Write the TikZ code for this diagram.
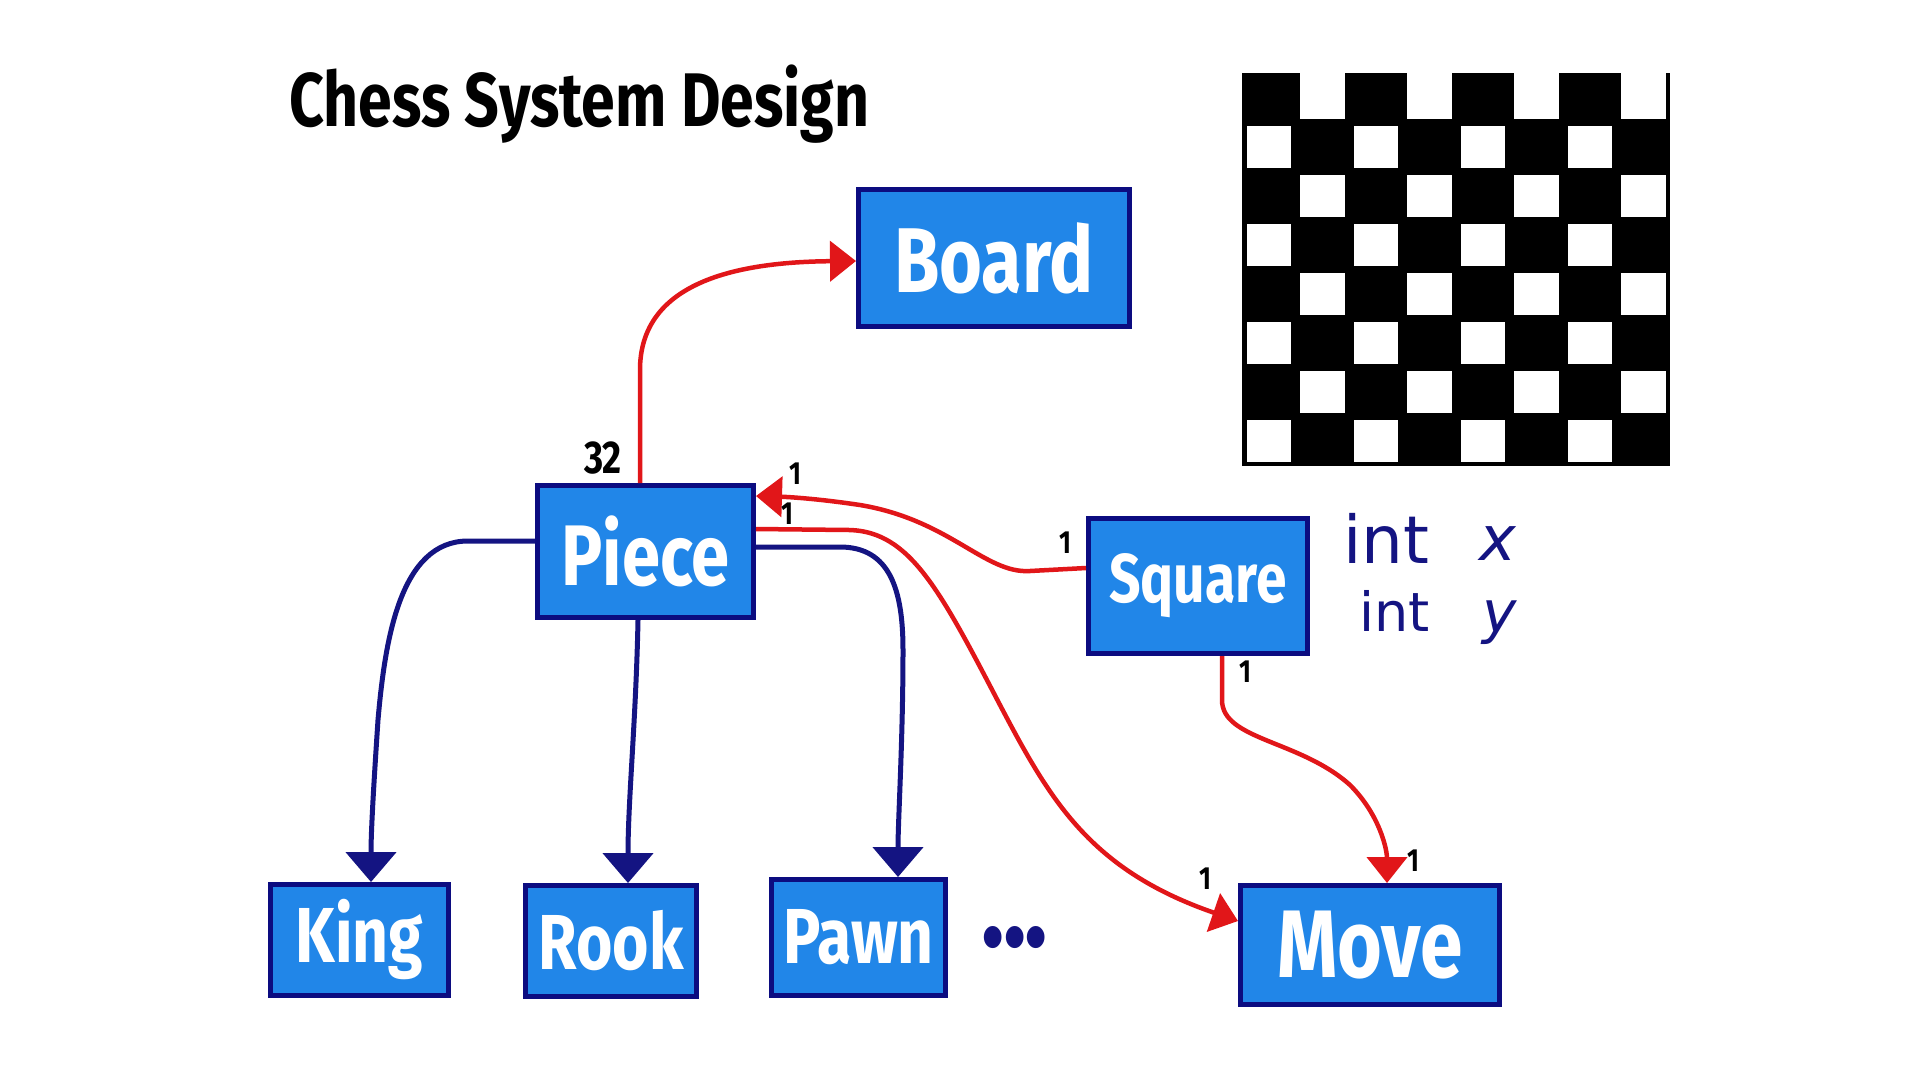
\documentclass[tikz,border=0pt]{standalone}
\usepackage{fontspec}
\setmainfont{Fira Sans}
\newfontfamily\labelfont[FakeStretch=0.8]{Fira Sans}
\newfontfamily\handfont{DejaVu Sans}
\usetikzlibrary{arrows.meta}

\definecolor{boxfill}{RGB}{33,134,232}
\definecolor{boxline}{RGB}{12,12,128}
\definecolor{navyline}{RGB}{20,20,130}
\definecolor{redline}{RGB}{225,22,25}

\begin{document}
\begin{tikzpicture}[x=1pt,y=-1pt,
  cls/.style={draw=boxline, fill=boxfill, line width=5pt, inner sep=0pt,
    text=white, font=\labelfont\bfseries},
  inherit/.style={draw=navyline, line width=5pt,
    -{Triangle[width=50pt,length=30pt]}},
  assoc/.style={draw=redline, line width=4.5pt,
    -{Triangle[width=40pt,length=26pt]}},
  mult/.style={inner sep=0pt, text=black,
    font=\labelfont\bfseries\fontsize{32}{32}\selectfont},
  attr/.style={inner sep=0pt, text=navyline, anchor=base west},
]
% page
\fill[white] (0,0) rectangle (1920,1080);
\useasboundingbox (0,0) rectangle (1920,1080);

% title
\node[anchor=base west, inner sep=0pt,
  font=\labelfont\bfseries\fontsize{76}{76}\selectfont] (title) at (289,126)
  {Chess System Design};

% checkerboard
\fill[black] (1242,73) rectangle (1670,466);
\foreach \r in {0,...,7}{
  \foreach \c in {0,...,7}{
    \pgfmathtruncatemacro{\odd}{mod(\r+\c,2)}
    \ifnum\odd=1
      \pgfmathsetmacro{\xa}{1242+53.5*\c+4.5}
      \pgfmathsetmacro{\xb}{1242+53.5*(\c+1)-4.5}
      \pgfmathsetmacro{\ya}{\r==0 ? 73 : 73+49.1*\r+3.5}
      \pgfmathsetmacro{\yb}{73+49.1*(\r+1)-3.5}
      \fill[white] (\xa,\ya) rectangle (\xb,\yb);
    \fi
  }
}

% classes
\node[cls, minimum width=271pt, minimum height=137pt,
  font=\labelfont\bfseries\fontsize{92}{92}\selectfont] (board) at (994,258) {Board};
\node[cls, minimum width=216pt, minimum height=132pt,
  font=\labelfont\bfseries\fontsize{86}{86}\selectfont] (piece) at (645.5,551.5) {Piece};
\node[cls, minimum width=219pt, minimum height=135pt,
  font=\labelfont\bfseries\fontsize{69}{69}\selectfont] (square) at (1198,586) {Square};
\node[cls, minimum width=178pt, minimum height=111pt,
  font=\labelfont\bfseries\fontsize{78}{78}\selectfont] (king) at (359.5,940) {King};
\node[cls, minimum width=171pt, minimum height=111pt,
  font=\labelfont\bfseries\fontsize{78}{78}\selectfont] (rook) at (611,941) {Rook};
\node[cls, minimum width=174pt, minimum height=116pt,
  font=\labelfont\bfseries\fontsize{78}{78}\selectfont] (pawn) at (858.5,937.5) {Pawn};
\node[cls, minimum width=259pt, minimum height=119pt,
  font=\labelfont\bfseries\fontsize{96}{96}\selectfont] (move) at (1370,945) {Move};

% more subclasses
\node[inner sep=0pt, text=navyline,
  font=\labelfont\bfseries\fontsize{122}{122}\selectfont] (more) at (1015,938)
  {.\kern-2pt.\kern-2pt.};

% Square attributes
\node[attr, font=\handfont\fontsize{66}{66}\selectfont] (ix) at (1343,563) {int};
\node[attr, font=\handfont\itshape\fontsize{62}{62}\selectfont] (vx) at (1479,560) {x};
\node[attr, font=\handfont\fontsize{54}{54}\selectfont] (iy) at (1359,631) {int};
\node[attr, font=\handfont\itshape\fontsize{58}{58}\selectfont] (vy) at (1482,632) {y};

% inheritance
\draw[inherit] ([yshift=10.5pt]piece.west) -- (468,541)
  .. controls (400,541) and (385,640) .. (378,720)
  .. controls (374,780) and (371,830) .. ([xshift=11.5pt]king.north);
\draw[inherit] ([xshift=-7.5pt]piece.south)
  .. controls (636,720) and (628,800) .. ([xshift=17pt]rook.north);
\draw[inherit] ([yshift=4.5pt]piece.east) -- (840,547)
  .. controls (890,547) and (903,590) .. (903,650)
  .. controls (903,740) and (898,820) .. ([xshift=39.5pt]pawn.north);

% associations
\draw[assoc] ([xshift=-5.5pt]piece.north) -- (640,370)
  .. controls (640,290) and (720,262) .. ([yshift=-3pt]board.west);
\draw[assoc] ([yshift=18pt]square.west) -- (1030,571)
  .. controls (985,574) and (950,520) .. (860,505)
  .. controls (820,499) and (790,497) .. ([yshift=55.5pt]piece.east);
\draw[assoc] ([yshift=22.5pt]piece.east) -- (850,530)
  .. controls (910,532) and (940,590) .. (1000,705)
  .. controls (1050,800) and (1090,870) .. ([yshift=24pt]move.west);
\draw[assoc] ([xshift=24pt]square.south) -- (1222,700)
  .. controls (1222,740) and (1300,740) .. (1350,785)
  .. controls (1380,815) and (1387,850) .. ([xshift=17pt]move.north);

% multiplicities
\node[mult, font=\labelfont\bfseries\fontsize{46}{46}\selectfont] (m32) at (603,458) {32};
\node[mult] (m1a) at (795,474) {1};
\node[mult] (m1b) at (787,514) {1};
\node[mult] (m1c) at (1065,543) {1};
\node[mult] (m1d) at (1245,672) {1};
\node[mult] (m1e) at (1205,879) {1};
\node[mult] (m1f) at (1413,861) {1};
\end{tikzpicture}
\end{document}
